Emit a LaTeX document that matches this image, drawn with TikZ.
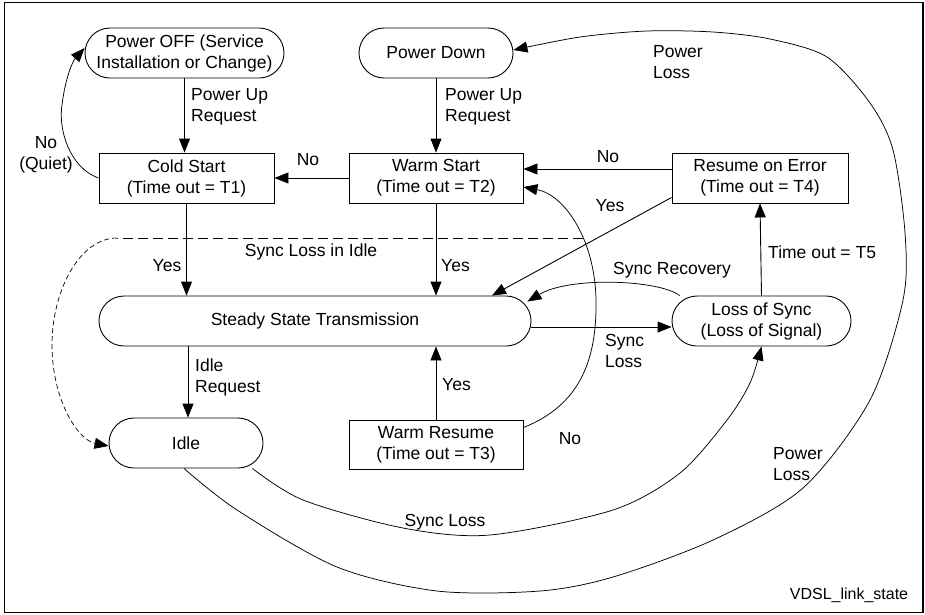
\documentclass[tikz,border=0pt]{standalone}
\usepackage{fontspec}
\setmainfont{Liberation Sans}
\usetikzlibrary{arrows.meta,calc}
\begin{document}
\begin{tikzpicture}[x=1pt,y=-1pt,
  every node/.style={font=\fontsize{17.5}{21}\selectfont, inner sep=0pt},
  box/.style={draw, line width=0.9pt, minimum height=50pt, align=center},
  stad/.style={box, rounded corners=25pt},
  lbl/.style={align=left},
  tip/.style={-{Triangle[length=14pt,width=11pt]}},
  arr/.style={line width=0.9pt, tip},
  carr/.style={line width=0.75pt, tip},
  curve/.style={line width=0.75pt}
]
\useasboundingbox (0,0) rectangle (925,614);
\draw[line width=1.1pt] (4.5,2.5) rectangle (923,612.5);

% states
\node[stad, minimum width=199pt] (poff) at (184.5,53) {Power OFF (Service\\Installation or Change)};
\node[stad, minimum width=154pt] (pdown) at (436,53) {Power Down};
\node[box, minimum width=175pt] (cold) at (186.5,178) {Cold Start\\(Time out = T1)};
\node[box, minimum width=174pt] (warm) at (436,178) {Warm Start\\(Time out = T2)};
\node[box, minimum width=176pt] (roe) at (760,178) {Resume on Error\\(Time out = T4)};
\node[stad, minimum width=432pt] (steady) at (315,321) {Steady State Transmission};
\node[stad, minimum width=179pt] (los) at (761.5,321) {Loss of Sync\\(Loss of Signal)};
\node[stad, minimum width=154pt] (idle) at (186,443) {Idle};
\node[box, minimum width=174pt, minimum height=49pt] (wres) at (436,444.5) {Warm Resume\\(Time out = T3)};

% straight connectors
\draw[arr] (poff.south) -- (poff.south |- cold.north);
\draw[arr] (pdown.south) -- (warm.north);
\draw[arr] (warm.west) -- (cold.east);
\draw[arr] ([yshift=9pt]roe.west) -- ([yshift=9pt]warm.east);
\draw[arr] ([yshift=6pt]roe.south west) -- ([xshift=177pt]steady.north);
\draw[arr] (cold.south) -- (cold.south |- steady.north);
\draw[arr] (warm.south) -- (warm.south |- steady.north);
\draw[arr] ([xshift=2pt]idle.north |- steady.south) -- ([xshift=2pt]idle.north);
\draw[arr] (wres.north) -- (wres.north |- steady.south);
\draw[arr] ([yshift=-6pt]steady.east) -- ([yshift=-6pt]los.west);
\draw[arr] (los.north) -- (roe.south);

% No (Quiet)
\coordinate (qE) at ([yshift=5pt]poff.west);
\draw[carr] (cold.west) .. controls (70,168) and (58,130) .. (62,105)
  .. controls (65,80) and (72,62) .. (qE);

% Sync Loss in Idle (dashed)
\coordinate (dsR) at (583,238);
\coordinate (dsL) at (117,238);
\coordinate (dsE) at ([yshift=-3pt]idle.west);
\draw[line width=0.9pt, dash pattern=on 10pt off 5pt] (dsR) -- (dsL);
\draw[line width=0.7pt, dash pattern=on 5pt off 3pt, tip] (dsL) .. controls (80,238) and (52,290) .. (52,345)
  .. controls (52,400) and (78,440) .. (dsE);

% Sync Recovery
\draw[carr] ([xshift=8pt]los.north west) .. controls (660,280) and (570,276) .. ([xshift=-4pt,yshift=-6pt]steady.north east);

% No: Warm Resume -> Warm Start
\draw[carr] ([yshift=17pt]wres.east) .. controls (580,405) and (597,360) .. (596,300)
  .. controls (595,240) and (565,195) .. ([yshift=-9pt]warm.east);

% Sync Loss: Idle -> Loss of Sync
\draw[carr] plot[smooth] coordinates {([xshift=-11pt]idle.south east) (303,500) (403,528) (490,535) (613,510) (680,473) (727,420) (750,383) (los.south)};

% Power Loss: Idle -> Power Down
\draw[carr] plot[smooth] coordinates {([xshift=-2pt]idle.south) (237,510) (337,567) (437,591) (540,591) (613,577) (713,540) (803,488) (870,400) (903,300) (905,233) (893,150) (870,103) (827,57) (770,39) (713,32) (647,31) (580,37) ([yshift=3pt]pdown.east)};

% labels
\node[lbl, anchor=west] (l1) at (191,106.5) {Power Up\\Request};
\node[lbl, anchor=west] (l2) at (445,106.5) {Power Up\\Request};
\node (l3) at (308,160) {No};
\node[align=center] (l4) at (46,155) {No\\(Quiet)};
\node (l5) at (167,266) {Yes};
\node (l6) at (311,252) {Sync Loss in Idle};
\node[anchor=west] (l7) at (441,266) {Yes};
\node (l8) at (608,157) {No};
\node (l9) at (610,206) {Yes};
\node[anchor=west] (l10) at (768,252) {Time out = T5};
\node (l11) at (672,270) {Sync Recovery};
\node[lbl, anchor=west] (l12) at (605,350.5) {Sync\\Loss};
\node[lbl, anchor=west] (l13) at (195,377) {Idle\\Request};
\node[anchor=west] (l14) at (442,385) {Yes};
\node (l15) at (570,439) {No};
\node (l16) at (445,522) {Sync Loss};
\node[lbl, anchor=west] (l17) at (773,464) {Power\\Loss};
\node[lbl, anchor=west] (l18) at (653,62) {Power\\Loss};
\node[font=\fontsize{16}{19}\selectfont] (l19) at (849,595) {VDSL\_link\_state};
\end{tikzpicture}
\end{document}
